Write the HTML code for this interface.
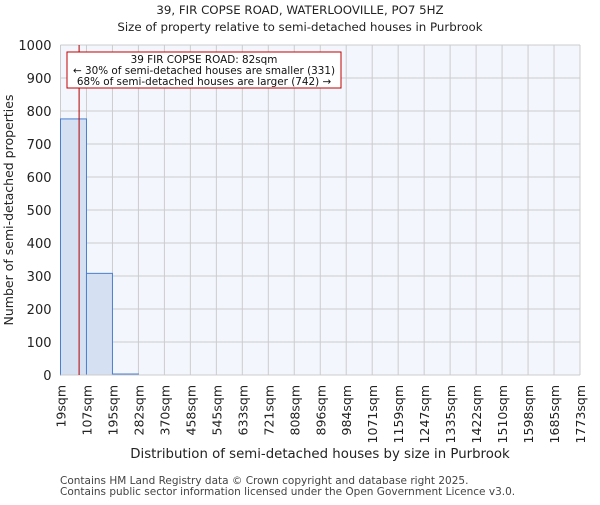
<!DOCTYPE html>
<html><head><meta charset="utf-8"><style>
body{margin:0;background:#fff;}
svg text{font-family:"DejaVu Sans","Liberation Sans",sans-serif;}
</style></head><body>
<svg width="600" height="500" viewBox="0 0 600 500">
<g id="chart"></g>
</svg>
<script>
const binLabels=["19sqm","107sqm","195sqm","282sqm","370sqm","458sqm","545sqm","633sqm","721sqm","808sqm","896sqm","984sqm","1071sqm","1159sqm","1247sqm","1335sqm","1422sqm","1510sqm","1598sqm","1685sqm","1773sqm"];
const binEdges=[19,107,195,282,370,458,545,633,721,808,896,984,1071,1159,1247,1335,1422,1510,1598,1685,1773];
const counts=[776,308,3,0,0,0,0,0,0,0,0,0,0,0,0,0,0,0,0,0];
const yTicks=[0,100,200,300,400,500,600,700,800,900,1000];
const subjectSize=82;

const NS="http://www.w3.org/2000/svg";
const g=document.getElementById('chart');
const L=60.5,R=580,T=45,B=375;
const nb=counts.length;
const xi=i=>L+(R-L)*i/nb;
const xv=v=>{for(let i=0;i<binEdges.length-1;i++){if(v<=binEdges[i+1])return xi(i)+(v-binEdges[i])/(binEdges[i+1]-binEdges[i])*(R-L)/nb;}return R;};
const y=v=>B-(B-T)*v/1000;
function el(t,a,txt){const e=document.createElementNS(NS,t);for(const k in a)e.setAttribute(k,a[k]);if(txt!==undefined)e.textContent=txt;g.appendChild(e);return e;}

let bg=el('rect',{x:L,y:T,width:R-L,height:B-T,fill:'#f3f6fd'});


yTicks.forEach(v=>{
 let l=el('line',{x1:L,x2:R,y1:y(v),y2:y(v),stroke:'#cccccc','stroke-width':1});
 
 
 let t=el('text',{x:L-9,y:y(v)+5,'text-anchor':'end','font-size':13,fill:'#222'},String(v));
 
 
});
for(let i=0;i<=nb;i++){
 let l=el('line',{x1:xi(i),x2:xi(i),y1:T,y2:B,stroke:'#cccccc','stroke-width':1});
 
 
 let t=el('text',{transform:`translate(${xi(i)+5},${B+10}) rotate(-90)`,'text-anchor':'end','font-size':12.5,fill:'#222'},binLabels[i]);
 
 
}
counts.forEach((c,i)=>{
 if(c<=0)return;
 let r=el('rect',{x:xi(i),y:y(c),width:xi(i+1)-xi(i),height:B-y(c),fill:'#d5e0f2',stroke:'#4a7fd0','stroke-width':1});
 
 
});
let ax=el('line',{x1:L,x2:R,y1:B,y2:B,stroke:'#ccc'});


let sl=el('line',{x1:xv(subjectSize),x2:xv(subjectSize),y1:T,y2:B,stroke:'#b00000','stroke-width':1});


let box=el('rect',{x:67,y:52,width:274,height:36,fill:'#fff',stroke:'#c00000','stroke-width':1});


[["39 FIR COPSE ROAD: 82sqm",63],["← 30% of semi-detached houses are smaller (331)",74],["68% of semi-detached houses are larger (742) →",85]].forEach(a=>{
 let t=el('text',{x:204,y:a[1],'text-anchor':'middle','font-size':10.4,fill:'#111'},a[0]);
 
 
});
let t1=el('text',{x:300,y:14,'text-anchor':'middle','font-size':11.8,fill:'#222'},"39, FIR COPSE ROAD, WATERLOOVILLE, PO7 5HZ");


let t2=el('text',{x:300,y:31,'text-anchor':'middle','font-size':11.8,fill:'#222'},"Size of property relative to semi-detached houses in Purbrook");


let yt=el('text',{transform:`translate(13,${(T+B)/2}) rotate(-90)`,'text-anchor':'middle','font-size':12.5,fill:'#222'},"Number of semi-detached properties");


let xt=el('text',{x:320,y:458,'text-anchor':'middle','font-size':13.3,fill:'#222'},"Distribution of semi-detached houses by size in Purbrook");


let f1=el('text',{x:60,y:484,'font-size':10.5,fill:'#444'},"Contains HM Land Registry data © Crown copyright and database right 2025.");


let f2=el('text',{x:60,y:495,'font-size':10.5,fill:'#444'},"Contains public sector information licensed under the Open Government Licence v3.0.");


</script>
</body></html>
